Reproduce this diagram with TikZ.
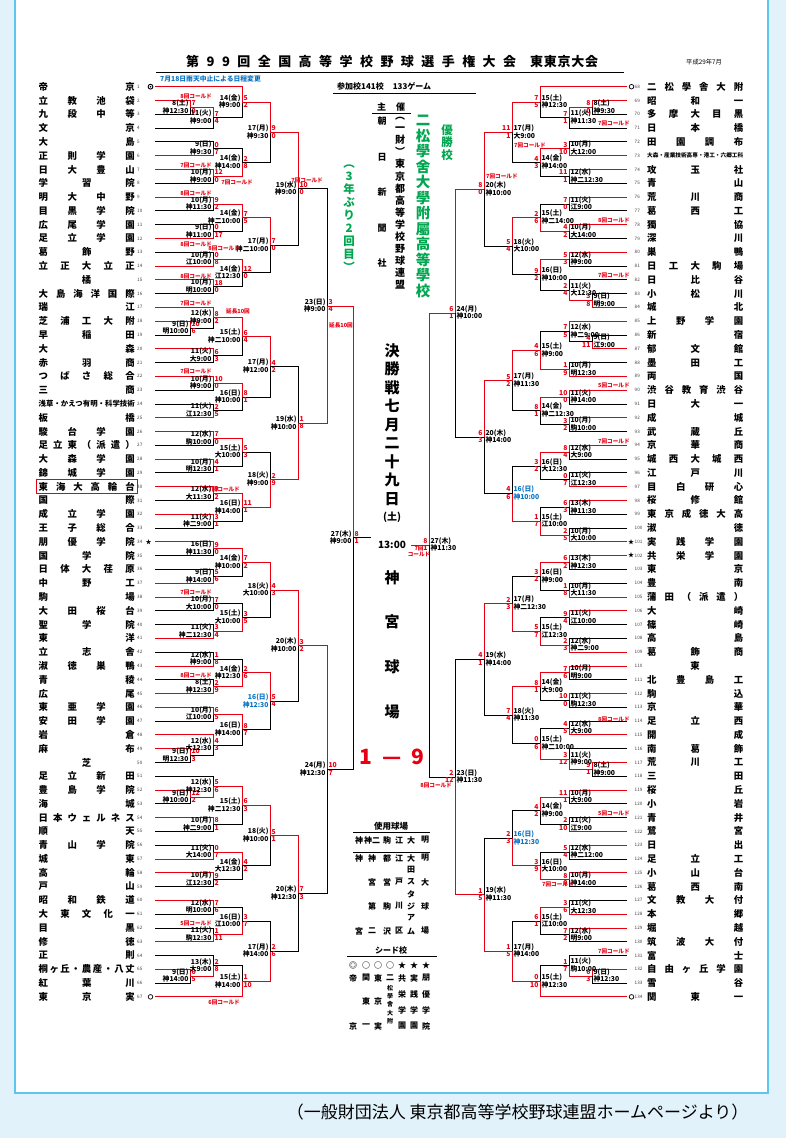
\documentclass[tikz,border=0pt]{standalone}
\usepackage{fontspec}
\usepackage{graphicx}
\setmainfont{Noto Sans CJK JP}
\usetikzlibrary{calc}
\definecolor{rd}{HTML}{E60012}
\definecolor{gr}{HTML}{00A650}
\definecolor{bl}{HTML}{0A74C4}
\definecolor{frm}{HTML}{5CC6EE}
\definecolor{bgb}{HTML}{E2F2FB}
\def\spA#1{\ifx\relax#1\else#1\expandafter\spB\fi}
\def\spB#1{\ifx\relax#1\else\hfill#1\expandafter\spB\fi}
\def\vtA#1{\ifx\relax#1\else#1\expandafter\vtB\fi}
\def\vtB#1{\ifx\relax#1\else\\#1\expandafter\vtB\fi}
\tikzset{
 tn/.style={inner sep=0pt, font=\fontsize{9.4}{10}\selectfont\bfseries},
 num/.style={inner sep=0pt, font=\fontsize{4.6}{5}\selectfont, text=black!75},
 lab/.style={inner sep=0pt, font=\fontsize{6.8}{7}\selectfont\bfseries},
 sc/.style={lab, text=rd},
 ko/.style={inner sep=0pt, font=\fontsize{5.6}{6}\selectfont\bfseries, text=rd},
 br/.style={line width=0.75pt},
}
\newcommand\YL[1]{86.7+(#1-1)*13.79}
\newcommand\YR[1]{86.7+(#1-68)*13.79}
\newcommand\tL[2]{\node[tn,anchor=west] (n#1) at (38.5,{\YL{#1}}) {\makebox[96pt][s]{\spA#2\relax}};
  \node[num,anchor=west] at (137,{\YL{#1}}) {#1};}
\newcommand\tLc[2]{\node[tn] (n#1) at (86.5,{\YL{#1}}) {#2};
  \node[num,anchor=west] at (137,{\YL{#1}}) {#1};}
\newcommand\tR[2]{\node[tn,anchor=west] (n#1) at (647,{\YR{#1}}) {\makebox[96pt][s]{\spA#2\relax}};
  \node[num,anchor=west] at (634.5,{\YR{#1}}) {#1};}
\newcommand\tRc[2]{\node[tn] (n#1) at (695,{\YR{#1}}) {#2};
  \node[num,anchor=west] at (634.5,{\YR{#1}}) {#1};}
% match: name, x, top, bottom, winner (1 top / 2 bottom)
\newcommand\mt[5]{%
  \path let \p1=(#3),\p2=(#4) in (#2pt,\y1) coordinate (#1-a) (#2pt,\y2) coordinate (#1-b);
  \coordinate (#1) at ($(#1-a)!0.5!(#1-b)$);
  \ifnum#5=1\relax\def\cA{rd}\def\cB{black}\else\def\cA{black}\def\cB{rd}\fi
  \draw[br,color=\cA] (#3) -- (#1-a) -- (#1);
  \draw[br,color=\cB] (#4) -- (#1-b) -- (#1);
}
\newcommand\lbLc[6]{%
  \node[lab,anchor=east,text=#6] at ($(#1)+(-1.3,-4)$) {#2};
  \node[lab,anchor=east,text=#6] at ($(#1)+(-1.3,3.2)$) {#3};
  \node[sc,anchor=west] at ($(#1)+(1.3,-4)$) {#4};
  \node[sc,anchor=west] at ($(#1)+(1.3,3.2)$) {#5};}
\newcommand\lbRc[6]{%
  \node[lab,anchor=west,text=#6] at ($(#1)+(1.3,-4)$) {#2};
  \node[lab,anchor=west,text=#6] at ($(#1)+(1.3,3.2)$) {#3};
  \node[sc,anchor=east] at ($(#1)+(-1.3,-4)$) {#4};
  \node[sc,anchor=east] at ($(#1)+(-1.3,3.2)$) {#5};}
\newcommand\lbL[5]{\lbLc{#1}{#2}{#3}{#4}{#5}{black}}
\newcommand\lbR[5]{\lbRc{#1}{#2}{#3}{#4}{#5}{black}}
\newcommand\ko[3]{\node[ko,anchor=east] at (#1,#2) {#3};}
\newcommand\koR[3]{\node[ko,anchor=west] at (#1,#2) {#3};}
\begin{document}
\begin{tikzpicture}[x=1pt,y=-1pt]
\useasboundingbox (0,0) rectangle (786,1138);
\fill[bgb] (0,0) rectangle (786,1138);
\fill[white] (15,0) rectangle (768,1093);
\draw[frm,line width=1.2pt] (15,0) -- (15,1093) -- (768,1093) -- (768,0);
\node[anchor=east,font=\fontsize{17}{18}\selectfont] (src) at (752,1112) {（一般財団法人 東京都高等学校野球連盟ホームページより）};

% title
\node[anchor=west,inner sep=0pt,font=\fontsize{13}{14}\selectfont\bfseries] (title) at (186,62)
  {\makebox[330pt][s]{\spA 第99回全国高等学校野球選手権大会\relax}};
\node[anchor=west,inner sep=0pt,font=\fontsize{13}{14}\selectfont\bfseries] (title2) at (530,62)
  {\makebox[68pt][s]{\spA 東東京大会\relax}};
\draw[line width=1.6pt] (156,72.5) -- (624,72.5);
\node[anchor=west,inner sep=0pt,font=\fontsize{6.3}{7}\selectfont] (date) at (686,62) {平成29年7月};
\node[anchor=west,inner sep=0pt,font=\fontsize{6.8}{7}\selectfont\bfseries,text=bl] (rain) at (160,78.5) {7月18日雨天中止による日程変更};
\node[anchor=west,inner sep=0pt,font=\fontsize{8}{9}\selectfont\bfseries] (part) at (337,86.5) {参加校141校\hspace{9pt}133ゲーム};
\draw[line width=0.8pt] (333,93) -- (476,93);

% centre column
\node[inner sep=0pt,font=\fontsize{9}{10}\selectfont\bfseries] (shu) at (391,107) {主\hspace{10pt}催};
\draw[line width=0.8pt] (372,113.5) -- (411,113.5);
\node[anchor=north,inner sep=0pt,align=center,font=\fontsize{9}{35.5}\selectfont\bfseries] (asahi) at (382,117) {\vtA 朝日新聞社\relax};
\node[anchor=north,inner sep=0pt,align=center,font=\fontsize{10}{12.1}\selectfont\bfseries] (renmei) at (400,117) {\vtA ︵一財︶東京都高等学校野球連盟\relax};
\node[anchor=north,inner sep=0pt,align=center,font=\fontsize{14.5}{15.5}\selectfont\bfseries,text=gr] (champ) at (423,115) {\vtA 二松學舍大學附屬高等學校\relax};
\node[anchor=north,inner sep=0pt,align=center,font=\fontsize{11.5}{12.5}\selectfont\bfseries,text=gr] (yusho) at (447,124) {\vtA 優勝校\relax};
\node[anchor=north,inner sep=0pt,align=center,font=\fontsize{11.5}{13}\selectfont\bfseries,text=gr] (sannen) at (349,165) {\vtA ︵3年ぶり2回目︶\relax};
\node[anchor=north,inner sep=0pt,align=center,font=\fontsize{15}{18.5}\selectfont\bfseries] (kessho) at (392,343) {\vtA 決勝戦七月二十九日\relax\\[-2pt]{\fontsize{10}{11}\selectfont (土)}};
\node[inner sep=0pt,font=\fontsize{10}{11}\selectfont\bfseries] (time) at (392,545) {13:00};
\node[anchor=north,inner sep=0pt,align=center,font=\fontsize{15}{44.7}\selectfont\bfseries] (jingu) at (392,570) {\vtA 神宮球場\relax};
\node[inner sep=0pt,font=\fontsize{21}{22}\selectfont\bfseries,text=rd] (score) at (392,757) {1\hspace{10pt}—\hspace{10pt}9};

% venue box
\node[inner sep=0pt,font=\fontsize{8.5}{9}\selectfont\bfseries] (vh) at (391,826) {使用球場};
\draw[line width=0.8pt] (353,832) -- (430,832);
\foreach \c/\t [count=\k] in {359/神,372/神二,387/駒,399/江,411/大,425/明}
  \node[inner sep=0pt,font=\fontsize{8}{9}\selectfont\bfseries] (vk\k) at (\c,840) {\t};
\draw[line width=0.8pt] (353,852) -- (430,852);
\begin{scope}[every node/.style={inner sep=0pt,font=\fontsize{8}{9}\selectfont\bfseries}]
\node at (359,858) {神}; \node at (359,931) {宮};
\node at (372,858) {神}; \node at (372,882) {宮}; \node at (372,906) {第}; \node at (372,931) {二};
\node at (387,858) {都}; \node at (387,882) {営}; \node at (387,906) {駒}; \node at (387,931) {沢};
\node at (399,858) {江}; \node at (399,882) {戸}; \node at (399,906) {川}; \node at (399,931) {区};
\node at (411,858) {大}; \node at (411,870) {田}; \node at (411,882) {ス}; \node at (411,894) {タ}; \node at (411,906) {ジ}; \node at (411,918) {ア}; \node at (411,931) {ム};
\node at (425,858) {明}; \node at (425,882) {大}; \node at (425,906) {球}; \node at (425,931) {場};
% seeds
\node at (391,950) {シード校};
\node at (353,965) {◎}; \node at (366,965) {○}; \node at (378,965) {○}; \node at (390,965) {○};
\node at (402,965) {★}; \node at (414,965) {★}; \node at (426,965) {★};
\node at (353,978) {帝}; \node at (353,1026) {京};
\node at (366,978) {関}; \node at (366,1001) {東}; \node at (366,1026) {一};
\node at (378,978) {東}; \node at (378,1001) {京}; \node at (378,1026) {実};
\node at (390,978) {二};
\node at (402,978) {共}; \node at (402,994) {栄}; \node at (402,1010) {学}; \node at (402,1026) {園};
\node at (414,978) {実}; \node at (414,994) {践}; \node at (414,1010) {学}; \node at (414,1026) {園};
\node at (426,978) {朋}; \node at (426,994) {優}; \node at (426,1010) {学}; \node at (426,1026) {院};
\end{scope}
\node[anchor=north,inner sep=0pt,align=center,font=\fontsize{6}{8.3}\selectfont\bfseries] at (390,985) {\vtA 松學舍大附\relax};
\draw[line width=0.8pt] (347,956.5) -- (437,956.5);

% team names left
\tL{1}{帝京}\tL{2}{立教池袋}\tL{3}{九段中等}\tL{4}{文京}\tL{5}{大島}\tL{6}{正則学園}
\tL{7}{日大豊山}\tL{8}{学習院}\tL{9}{明大中野}\tL{10}{目黒学院}\tL{11}{広尾学園}
\tL{12}{足立学園}\tL{13}{葛飾野}\tL{14}{立正大立正}\tLc{15}{橘}\tL{16}{大島海洋国際}
\tL{17}{瑞江}\tL{18}{芝浦工大附}\tL{19}{早稲田}\tL{20}{大森}\tL{21}{赤羽商}
\tL{22}{つばさ総合}\tL{23}{三商}
\node[tn,anchor=west] (n24) at (38.5,{\YL{24}}) {\resizebox{96pt}{!}{浅草・かえつ有明・科学技術}};
\node[num,anchor=west] at (137,{\YL{24}}) {24};
\tL{25}{板橋}\tL{26}{駿台学園}\tL{27}{足立東（派遣）}\tL{28}{大森学園}\tL{29}{錦城学園}
\tL{30}{東海大高輪台}\tL{31}{国際}\tL{32}{成立学園}\tL{33}{王子総合}\tL{34}{朋優学院}
\tL{35}{国学院}\tL{36}{日体大荏原}\tL{37}{中野工}\tL{38}{駒場}\tL{39}{大田桜台}
\tL{40}{聖学院}\tL{41}{東洋}\tL{42}{立志舎}\tL{43}{淑徳巣鴨}\tL{44}{青稜}\tL{45}{広尾}
\tL{46}{東亜学園}\tL{47}{安田学園}\tL{48}{岩倉}\tL{49}{麻布}\tLc{50}{芝}\tL{51}{足立新田}
\tL{52}{豊島学院}\tL{53}{海城}\tL{54}{日本ウェルネス}\tL{55}{順天}\tL{56}{青山学院}
\tL{57}{城東}\tL{58}{高輪}\tL{59}{戸山}\tL{60}{昭和鉄道}\tL{61}{大東文化一}\tL{62}{目黒}
\tL{63}{修徳}\tL{64}{正則}\tL{65}{桐ヶ丘・農産・八丈}\tL{66}{紅葉川}\tL{67}{東京実}
\draw[rd,line width=0.9pt] (36.5,{\YL{30}-7.2}) rectangle (137,{\YL{30}+7.2});
% team names right
\tR{68}{二松學舎大附}\tR{69}{昭和一}\tR{70}{多摩大目黒}\tR{71}{日本橋}\tR{72}{田園調布}
\node[tn,anchor=west] (n73) at (647,{\YR{73}}) {\resizebox{96pt}{!}{大森・産業技術高専・港工・六郷工科}};
\node[num,anchor=west] at (634.5,{\YR{73}}) {73};
\tR{74}{攻玉社}\tR{75}{青山}\tR{76}{荒川商}\tR{77}{葛西工}\tR{78}{獨協}\tR{79}{深川}
\tR{80}{巣鴨}\tR{81}{日工大駒場}\tR{82}{日比谷}\tR{83}{小松川}\tR{84}{城北}\tR{85}{上野学園}
\tR{86}{新宿}\tR{87}{郁文館}\tR{88}{墨田工}\tR{89}{両国}\tR{90}{渋谷教育渋谷}\tR{91}{日大一}
\tR{92}{成城}\tR{93}{武蔵丘}\tR{94}{京華商}\tR{95}{城西大城西}\tR{96}{江戸川}\tR{97}{目白研心}
\tR{98}{桜修館}\tR{99}{東京成徳大高}\tR{100}{淑徳}\tR{101}{実践学園}\tR{102}{共栄学園}
\tR{103}{東京}\tR{104}{豊南}\tR{105}{蒲田（派遣）}\tR{106}{大崎}\tR{107}{篠崎}\tR{108}{高島}
\tR{109}{葛飾商}\tRc{110}{東}\tR{111}{北豊島工}\tR{112}{駒込}\tR{113}{京華}\tR{114}{足立西}
\tR{115}{開成}\tR{116}{南葛飾}\tR{117}{荒川工}\tR{118}{三田}\tR{119}{桜丘}\tR{120}{小岩}
\tR{121}{青井}\tR{122}{鷺宮}\tR{123}{日出}\tR{124}{足立工}\tR{125}{小山台}\tR{126}{葛西南}
\tR{127}{文教大付}\tR{128}{本郷}\tR{129}{堀越}\tR{130}{筑波大付}\tR{131}{富士}
\tR{132}{自由ヶ丘学園}\tR{133}{雪谷}\tR{134}{関東一}

% team line starts
\foreach \i in {1,...,67} \coordinate (t\i) at (155,{\YL{\i}});
\foreach \i in {68,...,134} \coordinate (t\i) at (627,{\YR{\i}});
% seed marks
\draw[line width=0.9pt] (150.5,{\YL{1}}) circle (2.4); \fill (150.5,{\YL{1}}) circle (0.9);
\draw[line width=0.7pt] (150.5,{\YL{67}}) circle (2.3);
\draw[line width=0.7pt] (631.5,{\YR{68}}) circle (2.3);
\draw[line width=0.7pt] (631.5,{\YR{134}}) circle (2.3);
\node[inner sep=0pt,font=\fontsize{6}{6}\selectfont] at (148.5,{\YL{34}}) {★};
\node[inner sep=0pt,font=\fontsize{6}{6}\selectfont] at (631,{\YR{101}}) {★};
\node[inner sep=0pt,font=\fontsize{6}{6}\selectfont] at (631,{\YR{102}}) {★};

% ===== LEFT bracket =====
% block A 1-16
\mt{a1}{190}{t2}{t3}{1}
\mt{a2}{213}{a1}{t4}{1}
\mt{a3}{213}{t5}{t6}{2}
\mt{a4}{213}{t7}{t8}{1}
\mt{a5}{213}{t9}{t10}{1}
\mt{a6}{213}{t11}{t12}{2}
\mt{a7}{213}{t13}{t14}{2}
\mt{a8}{213}{t15}{t16}{1}
\mt{b1}{242}{t1}{a2}{1}
\mt{b2}{242}{a3}{a4}{2}
\mt{b3}{242}{a5}{a6}{1}
\mt{b4}{242}{a7}{a8}{1}
\mt{c1}{270}{b1}{b2}{1}
\mt{c2}{270}{b3}{b4}{1}
\mt{d1}{298}{c1}{c2}{1}
% block B 17-33
\mt{a9r}{190}{t18}{t19}{1}
\mt{a9}{213}{t17}{a9r}{1}
\mt{a10}{213}{t20}{t21}{1}
\mt{a11}{213}{t22}{t23}{1}
\mt{a12}{213}{t24}{t25}{2}
\mt{a13}{213}{t26}{t27}{1}
\mt{a14}{213}{t28}{t29}{1}
\mt{a15}{213}{t30}{t31}{1}
\mt{a16}{213}{t32}{t33}{1}
\mt{b5}{242}{a9}{a10}{1}
\mt{b6}{242}{a11}{a12}{1}
\mt{b7}{242}{a13}{a14}{1}
\mt{b8}{242}{a15}{a16}{1}
\mt{c3}{270}{b5}{b6}{1}
\mt{c4}{270}{b7}{b8}{2}
\mt{d2}{298}{c3}{c4}{2}
% block C 34-50
\mt{a17}{213}{t34}{t35}{1}
\mt{a18}{213}{t36}{t37}{2}
\mt{a19}{213}{t38}{t39}{1}
\mt{a20}{213}{t40}{t41}{2}
\mt{a21}{213}{t42}{t43}{2}
\mt{a22}{213}{t44}{t45}{2}
\mt{a23}{213}{t46}{t47}{1}
\mt{a24r}{190}{t49}{t50}{1}
\mt{a24}{213}{t48}{a24r}{1}
\mt{b9}{242}{a17}{a18}{1}
\mt{b10}{242}{a19}{a20}{2}
\mt{b11}{242}{a21}{a22}{2}
\mt{b12}{242}{a23}{a24}{1}
\mt{c5}{270}{b9}{b10}{1}
\mt{c6}{270}{b11}{b12}{1}
\mt{d3}{298}{c5}{c6}{1}
% block D 51-67
\mt{a25r}{190}{t52}{t53}{1}
\mt{a25}{213}{t51}{a25r}{2}
\mt{a26}{213}{t54}{t55}{1}
\mt{a27}{213}{t56}{t57}{2}
\mt{a28}{213}{t58}{t59}{1}
\mt{a29}{213}{t60}{t61}{1}
\mt{a30}{213}{t62}{t63}{2}
\mt{a31r}{190}{t65}{t66}{1}
\mt{a31}{213}{t64}{a31r}{2}
\mt{b13}{242}{a25}{a26}{1}
\mt{b14}{242}{a27}{a28}{1}
\mt{b15}{242}{a29}{a30}{2}
\mt{b16}{242}{a31}{t67}{2}
\mt{c7}{270}{b13}{b14}{1}
\mt{c8}{270}{b15}{b16}{2}
\mt{d4}{298}{c7}{c8}{1}
\mt{e1}{327}{d1}{d2}{2}
\mt{e2}{327}{d3}{d4}{1}
\mt{f1}{353}{e1}{e2}{1}

% ===== RIGHT bracket =====
\mt{r1}{592}{t69}{t70}{1}
\mt{r2}{569}{r1}{t71}{1}
\mt{r3}{569}{t72}{t73}{2}
\mt{r4}{569}{t74}{t75}{1}
\mt{r5}{569}{t76}{t77}{1}
\mt{r6}{569}{t78}{t79}{1}
\mt{r7}{569}{t80}{t81}{1}
\mt{r8r}{592}{t83}{t84}{2}
\mt{r8}{569}{t82}{r8r}{2}
\mt{s1}{540}{t68}{r2}{1}
\mt{s2}{540}{r3}{r4}{1}
\mt{s3}{540}{r5}{r6}{2}
\mt{s4}{540}{r7}{r8}{1}
\mt{u1}{512}{s1}{s2}{1}
\mt{u2}{512}{s3}{s4}{1}
\mt{v1}{484}{u1}{u2}{1}
\mt{r9r}{592}{t86}{t87}{2}
\mt{r9}{569}{t85}{r9r}{1}
\mt{r10}{569}{t88}{t89}{2}
\mt{r11}{569}{t90}{t91}{1}
\mt{r12}{569}{t92}{t93}{1}
\mt{r13}{569}{t94}{t95}{1}
\mt{r14}{569}{t96}{t97}{2}
\mt{r15}{569}{t98}{t99}{1}
\mt{r16}{569}{t100}{t101}{2}
\mt{s5}{540}{r9}{r10}{2}
\mt{s6}{540}{r11}{r12}{1}
\mt{s7}{540}{r13}{r14}{1}
\mt{s8}{540}{r15}{r16}{2}
\mt{u3}{512}{s5}{s6}{1}
\mt{u4}{512}{s7}{s8}{2}
\mt{v2}{484}{u3}{u4}{1}
\mt{r17}{569}{t102}{t103}{1}
\mt{r18}{569}{t104}{t105}{2}
\mt{r19}{569}{t106}{t107}{1}
\mt{r20}{569}{t108}{t109}{2}
\mt{r21}{569}{t110}{t111}{1}
\mt{r22}{569}{t112}{t113}{1}
\mt{r23}{569}{t114}{t115}{2}
\mt{r24r}{592}{t117}{t118}{1}
\mt{r24}{569}{t116}{r24r}{2}
\mt{s9}{540}{r17}{r18}{1}
\mt{s10}{540}{r19}{r20}{2}
\mt{s11}{540}{r21}{r22}{1}
\mt{s12}{540}{r23}{r24}{2}
\mt{u5}{512}{s9}{s10}{2}
\mt{u6}{512}{s11}{s12}{1}
\mt{v3}{484}{u5}{u6}{1}
\mt{r25}{569}{t119}{t120}{1}
\mt{r26}{569}{t121}{t122}{2}
\mt{r27}{569}{t123}{t124}{1}
\mt{r28}{569}{t125}{t126}{1}
\mt{r29}{569}{t127}{t128}{2}
\mt{r30}{569}{t129}{t130}{1}
\mt{r31r}{592}{t132}{t133}{1}
\mt{r31}{569}{t131}{r31r}{2}
\mt{s13}{540}{r25}{r26}{1}
\mt{s14}{540}{r27}{r28}{2}
\mt{s15}{540}{r29}{r30}{1}
\mt{s16}{540}{r31}{t134}{2}
\mt{u7}{512}{s13}{s14}{2}
\mt{u8}{512}{s15}{s16}{2}
\mt{v4}{484}{u7}{u8}{2}
\mt{w1}{455}{v1}{v2}{1}
\mt{w2}{455}{v3}{v4}{2}
\mt{f2}{429}{w1}{w2}{1}
% final
\draw[br] (f1) -- ++(18,0) coordinate (fl);
\draw[br,rd] (f2) -- ++(-18,0) coordinate (fr);

% ---- labels left ----
\lbL{a1}{8(土)}{神12:30}{7}{0}
\lbL{a2}{11(火)}{神9:00}{7}{4}
\lbL{a3}{9(日)}{神9:30}{0}{7}
\lbL{a4}{10(月)}{神9:00}{12}{0}
\lbL{a5}{10(月)}{神11:30}{9}{2}
\lbL{a6}{9(日)}{神11:00}{0}{17}
\lbL{a7}{10(月)}{江10:00}{0}{8}
\lbL{a8}{10(月)}{明10:00}{18}{0}
\lbL{b1}{14(金)}{神9:00}{5}{2}
\lbL{b2}{14(金)}{神14:00}{2}{8}
\lbL{b3}{14(金)}{神二10:00}{7}{5}
\lbL{b4}{14(金)}{江12:30}{12}{0}
\lbL{c1}{17(月)}{神9:30}{9}{0}
\lbL{c2}{17(月)}{神二10:00}{7}{0}
\lbL{d1}{19(水)}{神9:00}{10}{0}
\lbL{a9r}{9(日)}{明10:00}{10}{6}
\lbL{a9}{12(水)}{神9:00}{8}{2}
\lbL{a10}{11(火)}{大9:00}{6}{3}
\lbL{a11}{10(月)}{神9:00}{10}{0}
\lbL{a12}{11(火)}{江12:30}{2}{5}
\lbL{a13}{12(水)}{駒10:00}{7}{0}
\lbL{a14}{10(月)}{明12:30}{4}{1}
\lbL{a15}{12(水)}{大11:30}{9}{2}
\lbL{a16}{11(火)}{神二9:00}{3}{1}
\lbL{b5}{15(土)}{神二10:00}{6}{4}
\lbL{b6}{16(日)}{神10:00}{8}{1}
\lbL{b7}{15(土)}{大10:00}{5}{3}
\lbL{b8}{16(日)}{神14:00}{11}{1}
\lbL{c3}{17(月)}{神12:00}{4}{2}
\lbL{c4}{18(火)}{神9:00}{2}{9}
\lbL{d2}{19(水)}{神10:00}{1}{8}
\lbL{a17}{16(日)}{神11:30}{9}{0}
\lbL{a18}{9(日)}{神14:00}{5}{6}
\lbL{a19}{10(月)}{大10:00}{7}{0}
\lbL{a20}{11(火)}{神二12:30}{3}{4}
\lbL{a21}{12(水)}{神9:00}{1}{8}
\lbL{a22}{8(土)}{神12:30}{2}{9}
\lbL{a23}{10(月)}{江10:00}{6}{5}
\lbL{a24r}{9(日)}{明12:30}{10}{3}
\lbL{a24}{12(水)}{大12:30}{4}{3}
\lbL{b9}{14(金)}{神10:00}{7}{2}
\lbL{b10}{15(土)}{大10:00}{3}{5}
\lbL{b11}{14(金)}{神12:30}{2}{6}
\lbL{b12}{16(日)}{神14:00}{8}{7}
\lbL{c5}{18(火)}{大10:00}{4}{3}
\lbLc{c6}{16(日)}{神12:30}{5}{4}{bl}
\lbL{d3}{20(木)}{神10:00}{3}{2}
\lbL{a25r}{9(日)}{神10:00}{12}{2}
\lbL{a25}{12(水)}{神12:30}{5}{6}
\lbL{a26}{10(月)}{神二9:00}{8}{1}
\lbL{a27}{11(火)}{大14:00}{0}{7}
\lbL{a28}{10(月)}{江12:30}{9}{2}
\lbL{a29}{12(水)}{明10:00}{7}{6}
\lbL{a30}{11(火)}{駒12:30}{1}{11}
\lbL{a31r}{9(日)}{神14:00}{6}{5}
\lbL{a31}{13(木)}{大9:00}{2}{8}
\lbL{b13}{15(土)}{神二12:30}{6}{3}
\lbL{b14}{14(金)}{大12:30}{4}{2}
\lbL{b15}{16(日)}{江10:00}{3}{7}
\lbL{b16}{15(土)}{神14:00}{1}{10}
\lbL{c7}{18(火)}{神10:00}{5}{1}
\lbL{c8}{17(月)}{神14:00}{2}{6}
\lbL{d4}{20(木)}{神12:30}{7}{3}
\lbL{e1}{23(日)}{神9:00}{3}{4}
\lbL{e2}{24(月)}{神12:30}{10}{7}
\lbL{f1}{27(木)}{神9:00}{8}{1}
% ---- labels right ----
\lbR{r1}{8(土)}{神9:30}{8}{0}
\lbR{r2}{11(火)}{神11:30}{7}{1}
\lbR{r3}{10(月)}{大12:00}{3}{10}
\lbR{r4}{12(水)}{神二12:30}{11}{1}
\lbR{r5}{11(火)}{江9:00}{7}{0}
\lbR{r6}{10(月)}{大14:00}{4}{2}
\lbR{r7}{12(水)}{神9:00}{5}{3}
\lbR{r8r}{9(日)}{明9:00}{3}{8}
\lbR{r8}{11(火)}{大12:30}{2}{4}
\lbR{s1}{15(土)}{神12:30}{7}{5}
\lbR{s2}{14(金)}{神14:00}{4}{3}
\lbR{s3}{15(土)}{神二14:00}{2}{6}
\lbR{s4}{16(日)}{神10:00}{9}{2}
\lbR{u1}{17(月)}{大9:00}{11}{1}
\lbR{u2}{18(火)}{大10:00}{5}{4}
\lbR{v1}{20(木)}{神10:00}{8}{0}
\lbR{r9r}{9(日)}{江9:00}{4}{11}
\lbR{r9}{12(水)}{神二9:00}{7}{5}
\lbR{r10}{10(月)}{明12:30}{1}{9}
\lbR{r11}{11(火)}{神14:00}{10}{0}
\lbR{r12}{10(月)}{駒10:00}{3}{2}
\lbR{r13}{12(水)}{大9:00}{8}{4}
\lbR{r14}{11(火)}{江12:30}{0}{7}
\lbR{r15}{13(木)}{神11:30}{6}{3}
\lbR{r16}{10(月)}{大10:00}{2}{5}
\lbR{s5}{15(土)}{神9:00}{4}{6}
\lbR{s6}{14(金)}{神二12:30}{8}{1}
\lbR{s7}{16(日)}{大12:30}{3}{2}
\lbR{s8}{15(土)}{江10:00}{1}{7}
\lbR{u3}{17(月)}{神11:30}{5}{2}
\lbRc{u4}{16(日)}{神10:00}{4}{6}{bl}
\lbR{v2}{20(木)}{神14:00}{6}{3}
\lbR{r17}{13(木)}{神12:30}{6}{2}
\lbR{r18}{10(月)}{大11:30}{1}{8}
\lbR{r19}{11(火)}{江10:00}{9}{4}
\lbR{r20}{12(水)}{神二9:00}{2}{3}
\lbR{r21}{10(月)}{明9:00}{7}{6}
\lbR{r22}{11(火)}{駒12:30}{10}{0}
\lbR{r23}{12(水)}{大9:00}{4}{5}
\lbR{r24r}{8(土)}{神9:00}{9}{1}
\lbR{r24}{11(火)}{神9:00}{3}{12}
\lbR{s9}{16(日)}{神9:00}{3}{2}
\lbR{s10}{15(土)}{江12:30}{5}{7}
\lbR{s11}{14(金)}{大9:00}{8}{1}
\lbR{s12}{15(土)}{神二10:00}{0}{6}
\lbR{u5}{17(月)}{神二12:30}{2}{3}
\lbR{u6}{18(火)}{神11:30}{7}{4}
\lbR{v3}{19(水)}{神14:00}{4}{1}
\lbR{r25}{10(月)}{大9:00}{11}{1}
\lbR{r26}{11(火)}{江9:00}{2}{10}
\lbR{r27}{12(水)}{神二12:00}{5}{4}
\lbR{r28}{10(月)}{神14:00}{8}{0}
\lbR{r29}{11(火)}{大12:30}{3}{6}
\lbR{r30}{12(水)}{明9:00}{7}{2}
\lbR{r31r}{9(日)}{神12:30}{6}{3}
\lbR{r31}{11(火)}{駒10:00}{1}{7}
\lbR{s13}{14(金)}{神9:00}{4}{2}
\lbR{s14}{16(日)}{大10:00}{3}{9}
\lbR{s15}{15(土)}{江10:00}{6}{1}
\lbR{s16}{15(土)}{神12:30}{0}{10}
\lbRc{u7}{16(日)}{神12:30}{2}{3}{bl}
\lbR{u8}{17(月)}{神14:00}{1}{5}
\lbR{v4}{19(水)}{神11:30}{1}{5}
\lbR{w1}{24(月)}{神10:00}{6}{1}
\lbR{w2}{23(日)}{神11:30}{2}{12}
\lbR{f2}{27(木)}{神11:30}{8}{1}
% ---- called games etc. ----
\ko{212}{96}{8回コールド}
\ko{212}{165}{7回コールド}
\ko{253}{182}{7回コールド}
\ko{323}{180}{7回コールド}
\ko{212}{193}{8回コールド}
\ko{212}{244}{8回コールド}
\ko{240}{248}{8回コールド}
\ko{212}{276}{8回コールド}
\ko{212}{303}{7回コールド}
\ko{250}{311}{延長10回}
\ko{353}{325}{延長10回}
\ko{212}{371.8}{7回コールド}
\ko{240}{489}{7回コールド}
\ko{212}{592.4}{7回コールド}
\ko{212}{675.2}{8回コールド}
\ko{212}{923.4}{5回コールド}
\ko{240}{1002.5}{6回コールド}
\koR{598}{123.5}{7回コールド}
\koR{514}{145}{7回コールド}
\koR{486}{176}{7回コールド}
\koR{598}{220}{8回コールド}
\koR{598}{275.3}{7回コールド}
\koR{598}{385.5}{5回コールド}
\koR{598}{441.7}{7回コールド}
\koR{598}{719.4}{8回コールド}
\koR{598}{813}{5回コールド}
\koR{542}{884}{7回コールド}
\koR{598}{951}{7回コールド}
\ko{452}{785}{8回コールド}
\node[ko,align=center] (sfko) at (419,551) {7回\\コールド};
\end{tikzpicture}
\end{document}
